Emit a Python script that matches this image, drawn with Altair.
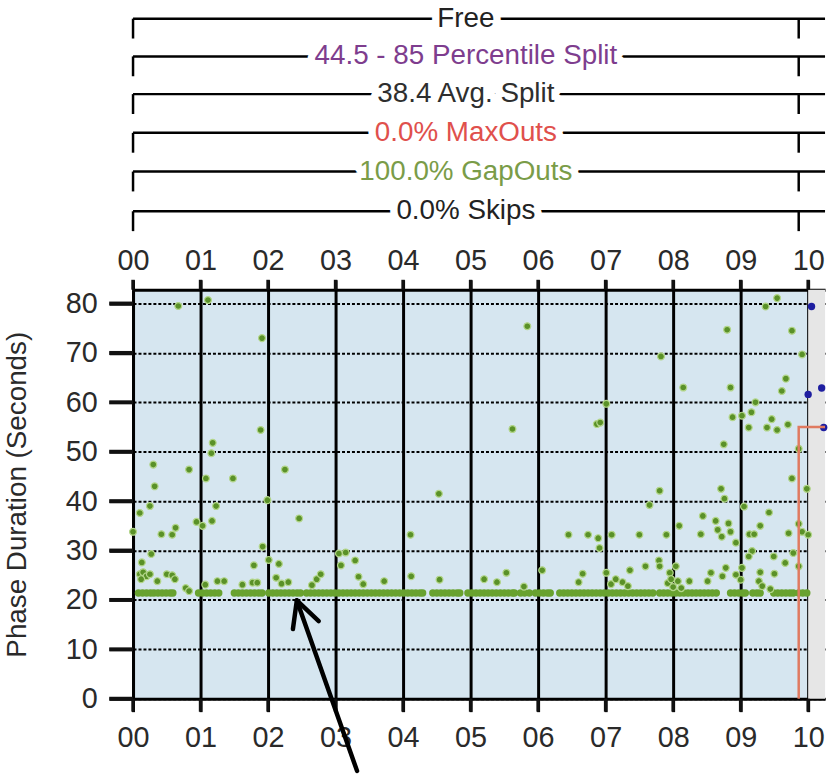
import altair as alt
import pandas as pd

# ---------------- data ----------------
# scattered green cycles: hour of day, phase duration (s)
GREEN_X = [0.67, 0.30, 0.83, 0.32, 0.25, 0.10, 0.94, 0.00, 0.63, 0.58, 0.42, 0.27, 0.13, 0.10, 0.15, 0.20,
           0.25, 0.12, 0.36, 0.50, 0.58, 0.62, 0.78, 0.83,
           1.11, 1.18, 1.16, 1.08, 1.48, 1.23, 1.17, 1.03, 1.89, 1.91, 1.99, 1.92, 1.79, 1.07, 1.25, 1.35,
           1.62, 1.77, 1.84,
           2.25, 2.46, 2.16, 2.01, 2.12, 2.20, 2.30, 2.65, 2.72, 2.78,
           3.05, 3.15, 3.08, 3.29, 3.34, 3.41, 3.72,
           4.53, 4.11, 4.12, 4.54,
           5.62, 5.84, 5.20, 5.39, 5.53, 5.79,
           6.06, 6.45, 6.74, 6.89, 6.91, 6.87, 6.92, 7.01, 6.66, 6.60,
           7.09, 7.50, 7.90, 7.80, 7.65, 7.82, 7.36, 7.59, 7.79, 7.95, 7.08, 7.15, 7.25, 7.33, 7.01, 7.80,
           7.92, 7.97,
           8.15, 8.85, 8.80, 8.75, 8.71, 8.76, 8.44, 8.63, 8.82, 8.09, 8.66, 8.85, 8.41, 8.72, 8.93, 8.04,
           8.78, 8.56, 8.93, 8.73, 8.51, 8.24, 8.00, 8.07, 8.12, 8.88,
           9.02, 9.16, 9.12, 9.46, 9.39, 9.54, 9.70, 9.22, 9.54, 9.37, 9.76, 9.91, 9.67, 9.61, 9.86, 9.76,
           9.98, 9.05, 9.42, 9.29, 9.13, 9.20, 9.71, 9.86, 9.91, 10.00, 9.17, 9.78, 9.49, 9.12, 9.66, 9.86,
           9.02, 9.29, 9.50, 9.27, 9.00, 9.32, 9.44]
GREEN_Y = [79.5, 47.4, 46.4, 43.0, 39.0, 37.6, 35.8, 33.8, 34.6, 33.2, 33.3, 29.3, 27.6, 25.2, 25.6, 24.8,
           25.2, 24.2, 23.8, 25.2, 25.0, 24.2, 22.4, 21.8,
           80.7, 51.8, 49.7, 44.6, 44.6, 39.0, 36.0, 35.0, 54.4, 73.0, 40.2, 30.8, 27.0, 23.1, 23.8, 23.8,
           23.1, 23.5, 23.5,
           46.4, 36.5, 27.3, 28.1, 24.5, 23.3, 23.6, 23.0, 24.2, 25.2,
           29.4, 29.6, 27.0, 28.0, 24.7, 23.2, 23.8,
           41.5, 33.2, 24.8, 24.1,
           54.6, 75.4, 24.2, 23.6, 25.5, 22.7,
           26.0, 33.2, 33.2, 32.5, 30.5, 55.6, 55.9, 59.7, 25.3, 23.6,
           33.2, 33.2, 33.2, 42.1, 39.2, 69.3, 26.0, 26.8, 28.0, 25.5, 23.2, 24.2, 23.6, 22.8, 25.5, 26.8,
           23.4, 24.2,
           63.0, 63.0, 74.7, 51.5, 42.5, 40.5, 37.0, 36.0, 35.5, 35.0, 34.2, 33.8, 33.3, 32.8, 31.6, 26.8,
           26.5, 25.5, 25.1, 24.8, 23.8, 23.8, 22.6, 23.8, 22.4, 57.0,
           57.3, 58.0, 54.9, 56.6, 54.9, 54.4, 55.5, 60.0, 81.1, 79.4, 74.5, 69.7, 64.8, 62.3, 50.6, 44.6,
           42.5, 38.9, 37.7, 35.0, 33.3, 33.3, 33.5, 35.4, 33.8, 33.2, 29.9, 29.5, 28.8, 28.8, 27.5, 26.8,
           26.5, 25.6, 25.3, 23.8, 24.1, 22.8, 22.2]

# the dense band of minimum-green gap-outs
BAND_X = [0.08, 0.14, 0.20, 0.26, 0.31, 0.37, 0.43, 0.49, 0.55, 0.59,
          0.97, 1.03, 1.09, 1.15, 1.21, 1.27,
          1.50, 1.56, 1.62, 1.68, 1.74, 1.80, 1.86, 1.91,
          2.01, 2.07, 2.13, 2.19, 2.25, 2.31, 2.37, 2.43, 2.48,
          2.57, 2.63, 2.69, 2.75, 2.81, 2.87, 2.93, 2.99, 3.05, 3.11, 3.17, 3.23, 3.29, 3.35, 3.41, 3.47,
          3.53, 3.59, 3.65, 3.71, 3.77, 3.83, 3.89, 3.95, 4.01, 4.07, 4.13, 4.19, 4.25, 4.29,
          4.44, 4.50, 4.56, 4.62, 4.68, 4.74, 4.80, 4.84,
          4.96, 5.02, 5.08, 5.14, 5.20, 5.26, 5.32, 5.38, 5.44, 5.50, 5.56, 5.62, 5.65,
          5.74, 5.80, 5.87,
          5.96, 6.02, 6.08, 6.14, 6.18,
          6.32, 6.38, 6.44, 6.50, 6.56, 6.62, 6.68, 6.74, 6.80, 6.86, 6.92, 6.98, 7.04, 7.10, 7.16, 7.22,
          7.28, 7.34, 7.40, 7.46, 7.52, 7.58, 7.64, 7.70,
          7.80, 7.86, 7.92, 7.98, 8.04, 8.10, 8.16, 8.22, 8.28, 8.34, 8.40, 8.46, 8.52, 8.58, 8.64,
          8.85, 8.91, 8.97, 9.03, 9.07,
          9.18, 9.24, 9.29,
          9.49, 9.55, 9.61, 9.67, 9.73, 9.78,
          9.86, 9.92, 9.98]
BAND_SECONDS = 21.4

# cycles of the next plan (blue)
BLUE_X = [10.05, 10.00, 10.20, 10.23]
BLUE_Y = [79.4, 61.6, 62.9, 54.9]

PLAN_CHANGE_HOUR = 9.86      # start of next plan
NEW_PLAN_SPLIT = 55          # programmed split of next plan (s)
GRAY_START_HOUR = 10.0
X_MAX = 10.25
Y_MAX = 82.8

HOUR_TICKS = [0, 1, 2, 3, 4, 5, 6, 7, 8, 9, 10]
Y_TICKS = [0, 10, 20, 30, 40, 50, 60, 70, 80]

PLAN_LABELS = ["Free", "44.5 - 85 Percentile Split", "38.4 Avg. Split",
               "0.0% MaxOuts", "100.0% GapOuts", "0.0% Skips"]
PLAN_COLORS = ["#222222", "#7e3d8e", "#2e2e2e", "#e0504c", "#7a9c48", "#222222"]

# ---------------- layout / style ----------------
FONT = "Liberation Sans"
W = 697
MAIN_H = 412
TOP_H = 246
ROW_PIX = [16, 54, 92, 131, 170, 210]
TICK_DROP = 20
Y_TICK_PX = 24
X_TICK_TOP_PX = 10
X_TICK_BOTTOM_PX = 13
PX_PER_HOUR = W / X_MAX
PX_PER_SEC = MAIN_H / Y_MAX
ARROW = dict(tail_x=3.318, tail_y=-14.6, tip_x=2.426, tip_y=19.9,
             lb_x=2.368, lb_y=14.1, rb_x=2.75, rb_y=15.7)

xs = alt.Scale(domain=[0, X_MAX], nice=False, zero=False)
ys = alt.Scale(domain=[0, Y_MAX], nice=False)

Y_AXIS = alt.Axis(values=Y_TICKS, title="Phase Duration (Seconds)", grid=True, ticks=True,
                  tickSize=Y_TICK_PX)


def x_axis(orient):
    top = orient == "top"
    return alt.Axis(orient=orient, values=HOUR_TICKS, format="02d", grid=not top,
                    title=None, ticks=True,
                    tickSize=X_TICK_TOP_PX if top else X_TICK_BOTTOM_PX,
                    labelPadding=4 if top else 12)


gray = alt.Chart(pd.DataFrame({"x": [GRAY_START_HOUR], "x2": [X_MAX], "y": [0], "y2": [Y_MAX]})).mark_rect(
    color="#e6e6e6").encode(
    x=alt.X("x:Q", scale=xs, axis=x_axis("bottom")), x2="x2",
    y=alt.Y("y:Q", scale=ys, axis=Y_AXIS), y2="y2")

band = alt.Chart(pd.DataFrame({"h": BAND_X, "s": [BAND_SECONDS] * len(BAND_X)})).mark_circle(
    size=55, color="#68a22f", opacity=1).encode(
    x=alt.X("h:Q", scale=xs, axis=x_axis("top")),
    y=alt.Y("s:Q", scale=ys, axis=Y_AXIS))

green = alt.Chart(pd.DataFrame({"h": GREEN_X, "s": GREEN_Y})).mark_circle(
    size=48, color="#5a9128", opacity=1, stroke="#b3d68a", strokeWidth=1.2).encode(
    x=alt.X("h:Q", scale=xs, axis=None),
    y=alt.Y("s:Q", scale=ys, axis=Y_AXIS))

blue = alt.Chart(pd.DataFrame({"h": BLUE_X, "s": BLUE_Y})).mark_circle(
    size=55, color="#1e1ea0", opacity=1).encode(
    x=alt.X("h:Q", scale=xs, axis=None),
    y=alt.Y("s:Q", scale=ys, axis=Y_AXIS))

split_line = alt.Chart(pd.DataFrame({"h": [PLAN_CHANGE_HOUR, PLAN_CHANGE_HOUR, X_MAX],
                                     "s": [0, NEW_PLAN_SPLIT, NEW_PLAN_SPLIT], "o": [0, 1, 2]})).mark_line(
    color="#e07a60", strokeWidth=2.5).encode(
    x=alt.X("h:Q", scale=xs, axis=None),
    y=alt.Y("s:Q", scale=ys, axis=Y_AXIS), order="o:Q")

# explicit tick marks, as short line segments (drawn from the tick value lists)
ytick_df = pd.DataFrame({
    "s": Y_TICKS + Y_TICKS,
    "h": [-Y_TICK_PX / PX_PER_HOUR] * len(Y_TICKS) + [0] * len(Y_TICKS),
    "k": [str(v) for v in Y_TICKS] * 2})
yticks = alt.Chart(ytick_df).mark_line(color="#111111", strokeWidth=4).encode(
    x=alt.X("h:Q", scale=xs, axis=None),
    y=alt.Y("s:Q", scale=ys, axis=Y_AXIS), detail="k:N")

xtick_df = pd.DataFrame({
    "h": HOUR_TICKS * 4,
    "s": [0] * len(HOUR_TICKS) + [-X_TICK_BOTTOM_PX / PX_PER_SEC] * len(HOUR_TICKS)
         + [Y_MAX] * len(HOUR_TICKS) + [Y_MAX + X_TICK_TOP_PX / PX_PER_SEC] * len(HOUR_TICKS),
    "k": ["b%d" % v for v in HOUR_TICKS] * 2 + ["t%d" % v for v in HOUR_TICKS] * 2})
xticks = alt.Chart(xtick_df).mark_line(color="#111111", strokeWidth=3.5).encode(
    x=alt.X("h:Q", scale=xs, axis=None),
    y=alt.Y("s:Q", scale=ys, axis=Y_AXIS), detail="k:N")

arrow_df = pd.DataFrame({
    "x": [ARROW["tail_x"], ARROW["tip_x"], ARROW["tip_x"]],
    "y": [ARROW["tail_y"], ARROW["tip_y"], ARROW["tip_y"]],
    "x2": [ARROW["tip_x"], ARROW["lb_x"], ARROW["rb_x"]],
    "y2": [ARROW["tip_y"], ARROW["lb_y"], ARROW["rb_y"]]})
arrow = alt.Chart(arrow_df).mark_rule(color="black", strokeWidth=4.5, strokeCap="round").encode(
    x=alt.X("x:Q", scale=xs, axis=None), x2="x2",
    y=alt.Y("y:Q", scale=ys, axis=Y_AXIS), y2="y2")

main = alt.layer(gray, band, green, blue, split_line, yticks, xticks, arrow).resolve_axis(
    x="independent").properties(
    width=W, height=MAIN_H, view=alt.ViewBackground(fill="#d6e6f0", stroke=None))

# ---------------- top plan annotations ----------------
rows = pd.DataFrame({"label": PLAN_LABELS, "color": PLAN_COLORS, "py": ROW_PIX,
                     "py2": [p + TICK_DROP for p in ROW_PIX],
                     "x0": [0] * 6, "x1": [X_MAX] * 6, "xm": [PLAN_CHANGE_HOUR / 2] * 6,
                     "xc": [PLAN_CHANGE_HOUR] * 6})
tys = alt.Scale(domain=[0, TOP_H], reverse=True, nice=False, zero=False)
base = alt.Chart(rows)
hline = base.mark_rule(color="black", strokeWidth=2.5).encode(
    x=alt.X("x0:Q", scale=xs, axis=None), x2="x1", y=alt.Y("py:Q", scale=tys, axis=None))
lt = base.mark_rule(color="black", strokeWidth=2.5).encode(
    x=alt.X("x0:Q", scale=xs, axis=None), y=alt.Y("py:Q", scale=tys, axis=None), y2="py2")
rt = base.mark_rule(color="black", strokeWidth=2.5).encode(
    x=alt.X("xc:Q", scale=xs, axis=None), y=alt.Y("py:Q", scale=tys, axis=None), y2="py2")
halo = base.mark_text(font=FONT, fontSize=28, fill="white", stroke="white", strokeWidth=15,
                      strokeJoin="round", baseline="middle").encode(
    x=alt.X("xm:Q", scale=xs, axis=None), y=alt.Y("py:Q", scale=tys, axis=None), text="label:N")
txt = base.mark_text(font=FONT, fontSize=28, baseline="middle").encode(
    x=alt.X("xm:Q", scale=xs, axis=None), y=alt.Y("py:Q", scale=tys, axis=None), text="label:N",
    color=alt.Color("color:N", scale=None))
top = alt.layer(hline, lt, rt, halo, txt).properties(
    width=W, height=TOP_H, view=alt.ViewBackground(fill=None, stroke=None))

chart = alt.vconcat(top, main, spacing=0).properties(
    padding={"left": 3, "right": 0, "top": 0, "bottom": 0}
).configure_axis(
    gridColor="black", tickColor="black", domainColor="black", domainWidth=3,
    labelFont=FONT, labelFontSize=28, labelColor="#2a2a2a", labelFlush=False,
    titleFont=FONT, titleFontWeight="normal", titleColor="#2a2a2a", zindex=1
).configure_axisX(
    gridWidth=3, tickWidth=3, labelFontSize=29
).configure_axisY(
    gridDash=[3, 2], gridWidth=2, tickWidth=3, labelPadding=12, labelFontSize=29,
    titleFontSize=28, titlePadding=34
)

chart.save("out.html", embed_options={"renderer": "svg", "actions": False})
